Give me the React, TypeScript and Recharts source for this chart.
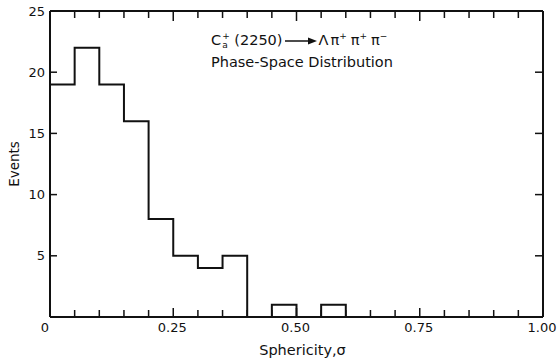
import React from 'react';
import { ComposedChart, Line, XAxis, YAxis, Label } from 'recharts';

// lower bin edges (sphericity) and event counts per bin, last point closes the histogram
const binEdges = [0, 0.05, 0.1, 0.15, 0.2, 0.25, 0.3, 0.35, 0.4, 0.45, 0.5, 0.55, 0.6, 0.65, 0.7, 0.75, 0.8, 0.85, 0.9, 0.95, 1.0];
const eventCounts = [19, 22, 19, 16, 8, 5, 4, 5, 0, 1, 0, 1, 0, 0, 0, 0, 0, 0, 0, 0, 0];

const majorX = [0, 0.25, 0.5, 0.75, 1.0];
const majorXLabels = ['0', '0.25', '0.50', '0.75', '1.00'];
const yTicks = [0, 5, 10, 15, 20, 25];
const yTickLabels = ['', '5', '10', '15', '20', '25'];

const data = binEdges.map((edge, i) => ({ edge, events: eventCounts[i] }));

const INK = '#111';
const FONT = '"DejaVu Sans", sans-serif';

const majorIndex = (v: number) => majorX.findIndex((m) => Math.abs(m - v) < 1e-6);

const BottomTick = (props: any) => {
  const { x, y, payload } = props;
  const idx = majorIndex(payload.value);
  return (
    <g>
      <line x1={x} x2={x} y1={y} y2={y - (idx >= 0 ? 9 : 7)} stroke={INK} strokeWidth={1.5} />
      {idx >= 0 && (
        <text x={x + (idx === 0 ? -5 : -1)} y={y + 10} textAnchor="middle" dominantBaseline="central"
          fontFamily={FONT} fontSize={13} fill={INK}>
          {majorXLabels[idx]}
        </text>
      )}
    </g>
  );
};

const TopTick = (props: any) => {
  const { x, y, payload } = props;
  const idx = majorIndex(payload.value);
  return <line x1={x} x2={x} y1={y} y2={y + (idx >= 0 ? 10 : 7)} stroke={INK} strokeWidth={1.5} />;
};

const LeftTick = (props: any) => {
  const { x, y, payload } = props;
  const idx = yTicks.indexOf(payload.value);
  return (
    <g>
      <line x1={x} x2={x + 7} y1={y} y2={y} stroke={INK} strokeWidth={1.5} />
      <text x={x - 5} y={y} textAnchor="end" dominantBaseline="central" fontFamily={FONT} fontSize={13} fill={INK}>
        {yTickLabels[idx]}
      </text>
    </g>
  );
};

const RightTick = (props: any) => {
  const { x, y } = props;
  return <line x1={x} x2={x - 8} y1={y} y2={y} stroke={INK} strokeWidth={1.5} />;
};

const axisLine = { stroke: INK, strokeWidth: 2 };

export default function App() {
  return (
    <div style={{ position: 'absolute', left: 0, top: 0, width: 559, height: 360, background: '#fff' }}>
      <ComposedChart width={559} height={360} data={data} margin={{ top: 10, right: 15, bottom: 0, left: 0 }}>
        <XAxis
          dataKey="edge"
          type="number"
          domain={[0, 1]}
          ticks={binEdges}
          interval={0}
          height={43}
          tickSize={0}
          tickMargin={0}
          tickLine={false}
          axisLine={axisLine}
          tick={BottomTick}
        >
          <Label
            content={({ viewBox }: any) => (
              <text x={viewBox.x + viewBox.width / 2 + 6} y={viewBox.y + 33} textAnchor="middle"
                dominantBaseline="central" fontFamily={FONT} fontSize={14.5} fill={INK}>
                Sphericity,σ
              </text>
            )}
          />
        </XAxis>
        <XAxis
          xAxisId="top"
          orientation="top"
          dataKey="edge"
          type="number"
          domain={[0, 1]}
          ticks={binEdges}
          interval={0}
          height={1}
          tickSize={0}
          tickMargin={0}
          tickLine={false}
          axisLine={axisLine}
          tick={TopTick}
        />
        <YAxis
          type="number"
          domain={[0, 25]}
          ticks={yTicks}
          interval={0}
          width={50}
          tickSize={0}
          tickMargin={0}
          tickLine={false}
          axisLine={axisLine}
          tick={LeftTick}
        >
          <Label
            content={({ viewBox }: any) => {
              const cx = 14;
              const cy = viewBox.y + viewBox.height / 2;
              return (
                <text x={cx} y={cy} transform={`rotate(-90 ${cx} ${cy})`} textAnchor="middle"
                  dominantBaseline="central" fontFamily={FONT} fontSize={13.5} fill={INK}>
                  Events
                </text>
              );
            }}
          />
        </YAxis>
        <YAxis
          yAxisId="right"
          orientation="right"
          type="number"
          domain={[0, 25]}
          ticks={[5, 10, 15, 20]}
          interval={0}
          width={1}
          tickSize={0}
          tickMargin={0}
          tickLine={false}
          axisLine={axisLine}
          tick={RightTick}
        />
        {/* invisible copy bound to the top/right axes so they get drawn */}
        <Line
          xAxisId="top"
          yAxisId="right"
          type="stepAfter"
          dataKey="events"
          stroke="none"
          dot={false}
          activeDot={false}
          legendType="none"
          isAnimationActive={false}
        />
        <Line
          type="stepAfter"
          dataKey="events"
          stroke={INK}
          strokeWidth={2}
          dot={false}
          activeDot={false}
          isAnimationActive={false}
        />
      </ComposedChart>
      <div style={{ position: 'absolute', left: 211, top: 25, fontFamily: FONT, fontSize: 14.5, color: INK, lineHeight: '22px', whiteSpace: 'nowrap' }}>
        <div>
          C
          <span style={{ display: 'inline-flex', flexDirection: 'column', verticalAlign: 'middle', fontSize: 9, lineHeight: '9px', marginLeft: 1 }}>
            <span>+</span>
            <span>a</span>
          </span>
          {' (2250)'}
          <svg width="34" height="10" style={{ verticalAlign: 'middle', margin: '0 1px 0 1px' }}>
            <line x1="1" y1="5" x2="27" y2="5" stroke={INK} strokeWidth="1.5" />
            <polygon points="24,1.5 33,5 24,8.5" fill={INK} />
          </svg>
          Λ
          <span style={{ marginLeft: 2 }}>π</span>
          <sup style={{ fontSize: 9 }}>+</sup>
          <span style={{ marginLeft: 4 }}>π</span>
          <sup style={{ fontSize: 9 }}>+</sup>
          <span style={{ marginLeft: 4 }}>π</span>
          <sup style={{ fontSize: 9 }}>−</sup>
        </div>
        <div>Phase-Space Distribution</div>
      </div>
    </div>
  );
}
